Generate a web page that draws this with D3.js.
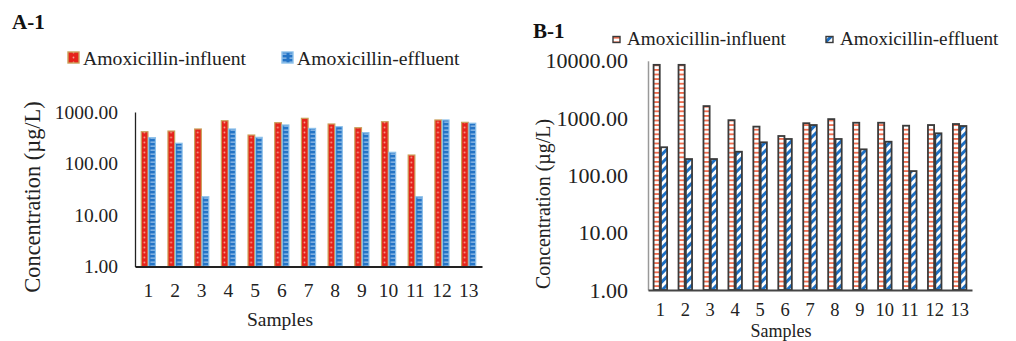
<!DOCTYPE html>
<html>
<head>
<meta charset="utf-8">
<script src="https://cdn.jsdelivr.net/npm/d3@7/dist/d3.min.js"></script>
<style>
  html, body { margin: 0; padding: 0; background: #fff; }
  svg text { font-family: "Liberation Serif", "Tinos", "DejaVu Serif", serif !important; }
</style>
</head>
<body>
<svg id="chart" width="1016" height="341"></svg>
<script>
// Sample numbers on the x axis
const samples = ["1","2","3","4","5","6","7","8","9","10","11","12","13"];
const seriesNames = ["Amoxicillin-influent", "Amoxicillin-effluent"];

// Panel A-1 concentrations (µg/L)
const influentA = [414, 427, 468, 676, 357, 620, 754, 585, 495, 648, 146, 700, 630];
const effluentA = [317, 247, 22.6, 468, 322, 560, 480, 518, 397, 165, 22.6, 700, 605];

// Panel B-1 concentrations (µg/L)
const influentB = [8500, 8500, 1620, 920, 710, 487, 814, 960, 830, 830, 737, 757, 788];
const effluentB = [310, 193, 193, 259, 378, 432, 757, 432, 285, 387, 119, 543, 728];

// Axis ticks
const ticksA = [1, 10, 100, 1000];
const ticksB = [1, 10, 100, 1000, 10000];

const svg = d3.select("#chart");
const fmt = d3.format(".2f");

// ---- fill patterns ----
const defs = svg.append("defs");

// A influent: red with small pale dots
const pA1 = defs.append("pattern").attr("id", "pA1").attr("patternUnits", "userSpaceOnUse")
  .attr("width", 7).attr("height", 5);
pA1.append("rect").attr("width", 7).attr("height", 5).attr("fill", "#e6231b");
pA1.append("circle").attr("cx", 3.5).attr("cy", 2.5).attr("r", 0.9).attr("fill", "#f3a090");

// A effluent: blue with pale horizontal dashes
const pA2 = defs.append("pattern").attr("id", "pA2").attr("patternUnits", "userSpaceOnUse")
  .attr("width", 8).attr("height", 4);
pA2.append("rect").attr("width", 8).attr("height", 4).attr("fill", "#2474c6");
pA2.append("rect").attr("x", 1.5).attr("y", 1.6).attr("width", 5).attr("height", 1).attr("fill", "#b9d6f2");

// B influent: white with red-orange horizontal stripes
const pB1 = defs.append("pattern").attr("id", "pB1").attr("patternUnits", "userSpaceOnUse")
  .attr("width", 8).attr("height", 4.6);
pB1.append("rect").attr("width", 8).attr("height", 4.6).attr("fill", "#fff");
pB1.append("rect").attr("y", 0).attr("width", 8).attr("height", 1.8).attr("fill", "#ef6a4c");

// B effluent: white with blue diagonal stripes
const pB2 = defs.append("pattern").attr("id", "pB2").attr("patternUnits", "userSpaceOnUse")
  .attr("width", 6).attr("height", 6).attr("patternTransform", "rotate(45)");
pB2.append("rect").attr("width", 6).attr("height", 6).attr("fill", "#fff");
pB2.append("rect").attr("width", 3).attr("height", 6).attr("fill", "#1c6fc4");

// ---- generic panel ----
function drawPanel(cfg) {
  const g = svg.append("g");
  const x0 = d3.scaleBand().domain(samples).range([cfg.left, cfg.right])
    .paddingInner(cfg.padIn).paddingOuter(cfg.padOut);
  const x1 = d3.scaleBand().domain([0, 1]).range([0, x0.bandwidth()]);
  const y = d3.scaleLog().domain(cfg.domain).range([cfg.bottom, cfg.top]);

  const rows = samples.map((s, i) => ({ s, v: [cfg.inf[i], cfg.eff[i]] }));

  // bars
  const grp = g.selectAll("g.grp").data(rows).join("g")
    .attr("transform", d => `translate(${x0(d.s)},0)`);
  grp.selectAll("rect").data(d => d.v.map((v, k) => ({ v, k }))).join("rect")
    .attr("x", d => x1(d.k) + cfg.inset)
    .attr("width", x1.bandwidth() - 2 * cfg.inset)
    .attr("y", d => y(d.v))
    .attr("height", d => y(cfg.domain[0]) - y(d.v))
    .attr("fill", d => `url(#${cfg.fills[d.k]})`)
    .attr("stroke", d => cfg.strokes[d.k])
    .attr("stroke-width", cfg.strokeW);

  // y axis
  const yAxis = d3.axisLeft(y).tickValues(cfg.ticks).tickFormat(fmt).tickSize(0).tickPadding(cfg.tickPad);
  const ya = g.append("g").attr("transform", `translate(${cfg.left},0)`).call(yAxis);
  ya.select(".domain").attr("stroke", cfg.axisColor).attr("stroke-width", cfg.yAxisW);
  ya.selectAll("text").attr("font-size", cfg.tickFont).attr("fill", "#222");

  // x axis
  const xAxis = d3.axisBottom(x0).tickSize(0).tickPadding(cfg.xPad);
  const xa = g.append("g").attr("transform", `translate(0,${cfg.bottom})`).call(xAxis);
  xa.select(".domain").attr("stroke", cfg.baseColor).attr("stroke-width", 2);
  xa.selectAll("text").attr("font-size", cfg.xFont).attr("fill", "#222");

  // axis titles
  g.append("text").attr("x", cfg.xTitle[0]).attr("y", cfg.xTitle[1])
    .attr("text-anchor", "middle").attr("font-size", cfg.xTitleFont).attr("fill", "#222").text("Samples");
  g.append("text")
    .attr("transform", `translate(${cfg.yTitle[0]},${cfg.yTitle[1]}) rotate(-90)`)
    .attr("text-anchor", "middle").attr("dominant-baseline", "central")
    .attr("font-size", cfg.yTitleFont).attr("fill", "#222").text("Concentration (µg/L)");

  // panel label
  g.append("text").attr("x", cfg.label[0]).attr("y", cfg.label[1])
    .attr("font-size", 21).attr("font-weight", "bold").attr("fill", "#111").text(cfg.name);

  // legend
  cfg.legend.forEach((pos, k) => {
    g.append("rect").attr("x", pos[0]).attr("y", pos[1]).attr("width", cfg.legBox[0]).attr("height", cfg.legBox[1])
      .attr("fill", `url(#${cfg.fills[k]})`).attr("stroke", cfg.strokes[k]).attr("stroke-width", 1.4);
    g.append("text").attr("x", pos[0] + cfg.legBox[0] + cfg.legGap).attr("y", cfg.legBase)
      .attr("font-size", cfg.legFont).attr("fill", "#222").text(seriesNames[k]);
  });
}

drawPanel({
  name: "A-1", label: [12, 29],
  left: 135, right: 482, top: 112, bottom: 266.5,
  padIn: 0.44, padOut: 0.22, inset: 0.4,
  domain: [1, 1000], ticks: ticksA,
  inf: influentA, eff: effluentA,
  fills: ["pA1", "pA2"], strokes: ["#c9a05a", "#8cc0ea"], strokeW: 1.2,
  axisColor: "#222", baseColor: "#222", yAxisW: 1.3,
  tickFont: 19.5, tickPad: 17, xFont: 19.5, xPad: 17,
  xTitle: [280, 326], xTitleFont: 19.5,
  yTitle: [32, 197], yTitleFont: 22.4,
  legend: [[68, 52], [282, 52]], legBox: [11, 11], legGap: 4, legBase: 64.5, legFont: 19.7
});

drawPanel({
  name: "B-1", label: [533, 38],
  left: 648, right: 972, top: 60.8, bottom: 290,
  padIn: 0.41, padOut: 0.2, inset: 0.6,
  domain: [1, 10000], ticks: ticksB,
  inf: influentB, eff: effluentB,
  fills: ["pB1", "pB2"], strokes: ["#3a3a3a", "#3a3a3a"], strokeW: 1.8,
  axisColor: "#999", baseColor: "#444", yAxisW: 1.5,
  tickFont: 22, tickPad: 20, xFont: 18.5, xPad: 13,
  xTitle: [781, 336.5], xTitleFont: 18,
  yTitle: [543, 204], yTitleFont: 19.9,
  legend: [[613, 36.5], [826, 36.5]], legBox: [7, 6], legGap: 7, legBase: 44.5, legFont: 19.2
});
</script>
</body>
</html>
